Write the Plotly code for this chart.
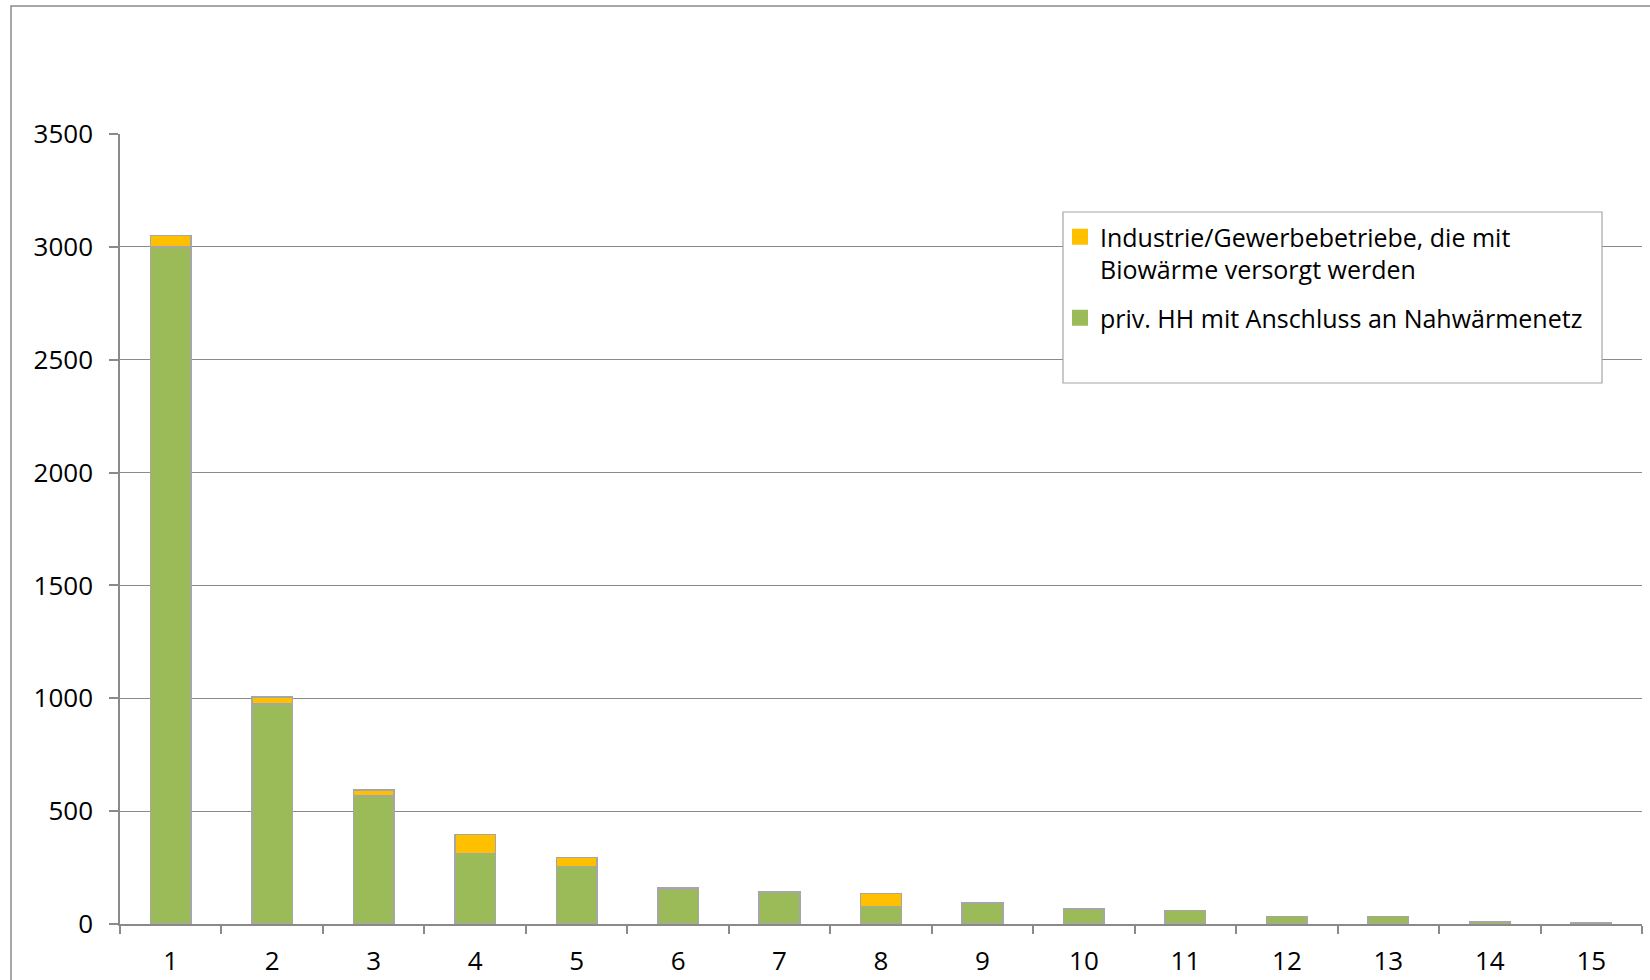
import plotly.graph_objects as go

categories = [str(i) for i in range(1, 16)]
hh_values = [3000, 975, 568, 313, 254, 155, 142, 78, 90, 66, 60, 34, 34, 10, 6]
industry_values = [50, 30, 25, 84, 40, 6, 0, 57, 6, 0, 0, 0, 0, 0, 0]
y_ticks = [0, 500, 1000, 1500, 2000, 2500, 3000, 3500]

name_hh = "priv. HH mit Anschluss an Nahwärmenetz"
name_ind = "Industrie/Gewerbebetriebe, die mit<br>Biowärme versorgt werden"

GREEN = "#9BBB59"
YELLOW = "#FFC000"
OUTLINE = "#A6A6A6"
GRID = "#8A8A8A"
FONT = "Open Sans"
FS = 26
LFS = 25

fig = go.Figure()
fig.add_trace(go.Bar(x=categories, y=hh_values, name=name_hh, showlegend=False,
                     marker=dict(color=GREEN, line=dict(color=OUTLINE, width=1.5))))
fig.add_trace(go.Bar(x=categories, y=industry_values, name=name_ind, showlegend=False,
                     marker=dict(color=YELLOW, line=dict(color=OUTLINE, width=1.5))))
# legend entries (larger swatches, as in the original)
fig.add_trace(go.Bar(x=[None], y=[None], name=name_hh, legendgroup="hh", legendrank=2,
                     marker=dict(color=GREEN, line=dict(color=GREEN, width=4))))
fig.add_trace(go.Bar(x=[None], y=[None], name=name_ind, legendgroup="ind", legendrank=1,
                     marker=dict(color=YELLOW, line=dict(color=YELLOW, width=4))))

W = 1650 - 120 - 8
H = 980 - 134 - 56
def px(x):
    return (x - 120) / W
def py(y):
    return (924 - y) / H

fig.update_layout(
    width=1650, height=980,
    margin=dict(l=120, r=8, t=134, b=56),
    barmode="stack", bargap=0.6,
    plot_bgcolor="white", paper_bgcolor="white",
    font=dict(family=FONT, size=FS, color="black"),
    showlegend=True,
    legend=dict(x=px(1060), y=py(214), xanchor="left", yanchor="top",
                traceorder="grouped", tracegroupgap=13, valign="top",
                bgcolor="rgba(0,0,0,0)", borderwidth=0,
                font=dict(family=FONT, size=LFS, color="black")),
    xaxis=dict(type="category", categoryorder="array", categoryarray=categories,
               showline=True, linecolor=GRID, linewidth=1.5,
               ticks="outside", ticklen=8, tickcolor=GRID, tickwidth=1.5,
               tickson="boundaries", showgrid=False, zeroline=False,
               ticklabelstandoff=13, automargin=False,
               tickfont=dict(family=FONT, size=FS, color="black")),
    yaxis=dict(range=[0, 3500], tickvals=y_ticks, showline=True, linecolor=GRID,
               linewidth=1.5, ticks="outside", ticklen=9, tickcolor=GRID, tickwidth=1.5,
               showgrid=True, gridcolor=GRID, gridwidth=1.3, zeroline=False,
               ticklabelstandoff=11, automargin=False,
               tickfont=dict(family=FONT, size=FS, color="black")),
    shapes=[
        dict(type="rect", xref="paper", yref="paper",
             x0=px(11), x1=1.2, y0=-0.3, y1=py(6),
             line=dict(color="#8A8A8A", width=1.5), fillcolor="rgba(0,0,0,0)", layer="below"),
        dict(type="rect", xref="paper", yref="paper",
             x0=px(1063), x1=px(1602), y0=py(383), y1=py(212),
             line=dict(color="#A6A6A6", width=1.2), fillcolor="white", layer="above"),
    ],
)

fig.write_html("out.html")
